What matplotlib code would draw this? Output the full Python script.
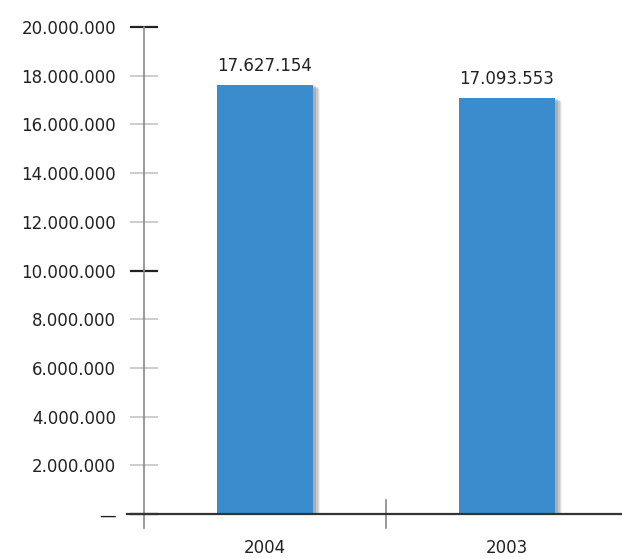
import matplotlib
matplotlib.use("Agg")
import matplotlib.pyplot as plt
import matplotlib.patheffects as pe

# values
years = ["2004", "2003"]
values = [17627154, 17093553]
value_labels = ["17.627.154", "17.093.553"]
y_ticks = [0, 2000000, 4000000, 6000000, 8000000, 10000000,
           12000000, 14000000, 16000000, 18000000, 20000000]
y_tick_labels = ["\u2014", "2.000.000", "4.000.000", "6.000.000", "8.000.000",
                 "10.000.000", "12.000.000", "14.000.000", "16.000.000",
                 "18.000.000", "20.000.000"]
major_ticks = [0, 10000000, 20000000]

W, H = 622, 559
fig = plt.figure(figsize=(W / 100, H / 100), dpi=100)
ax = fig.add_axes([144 / W, (H - 514) / H, (W - 144) / W, (514 - 27) / H])

x = list(range(len(years)))
bars = ax.bar(x, values, width=0.4, color="#3a8ccc", zorder=3)

# soft drop shadow on the bars
shadow = [pe.SimplePatchShadow(offset=(o, -o * 0.6), shadow_rgbFace="#555555", alpha=a)
          for o, a in [(5, 0.08), (4, 0.12), (3, 0.16), (2, 0.22)]]
for b in bars:
    b.set_path_effects(shadow + [pe.Normal()])

for xi, v, lab in zip(x, values, value_labels):
    ax.annotate(lab, (xi, v), xytext=(0, 7), textcoords="offset points",
                ha="center", va="bottom", fontsize=12, color="#222222")

ax.set_xlim(-0.5, -0.5 + (W - 144) / 242)
ax.set_ylim(0, 20000000)

for s in ax.spines.values():
    s.set_visible(False)

# axis lines drawn by hand so they run past the plot area
ax.axvline(-0.5, ymin=-14 / 487, ymax=1, color="#888888", lw=1.2, clip_on=False, zorder=2)
ax.axhline(0, xmin=-17 / 478, xmax=1, color="#333333", lw=1.6, clip_on=False, zorder=4)
ax.axvline(0.5, ymin=-14 / 487, ymax=14 / 487, color="#888888", lw=1.2, clip_on=False, zorder=2)

ax.set_yticks(y_ticks)
ax.set_yticklabels(y_tick_labels, fontsize=12, color="#222222")
ax.tick_params(axis="y", direction="inout", length=20, width=1.2,
               color="#c4c4c4", pad=10)
for t in ax.yaxis.get_major_ticks():
    if t.get_loc() in major_ticks:
        t.tick1line.set_markeredgecolor("#222222")
        t.tick1line.set_markeredgewidth(1.6)

ax.set_xticks(x)
ax.set_xticklabels(years, fontsize=12, color="#222222")
ax.tick_params(axis="x", length=0, pad=18)

fig.savefig("out.png", dpi=100)
